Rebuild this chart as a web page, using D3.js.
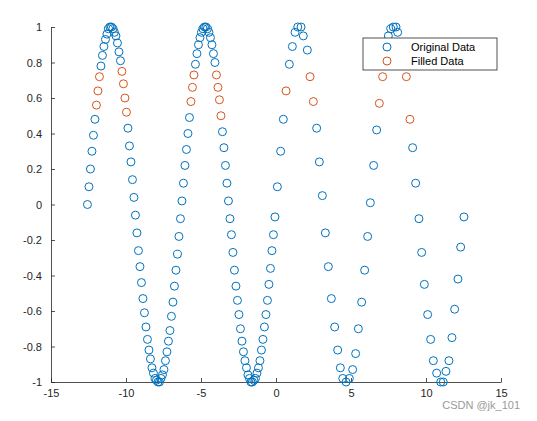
<!DOCTYPE html>
<html>
<head>
<meta charset="utf-8">
<script src="https://d3js.org/d3.v7.min.js"></script>
<style>
  body { margin: 0; background: #fff; font-family: Arial, "Liberation Sans", sans-serif; }
</style>
</head>
<body>
<div id="chart"></div>
<script>
// dense section, step 0.1 from -4*pi
var denseX = [-12.57,-12.47,-12.37,-12.27,-12.17,-12.07,-11.97,-11.87,-11.77,-11.67,-11.57,-11.47,-11.37,-11.27,-11.17,-11.07,-10.97,-10.87,-10.77,-10.67,-10.57,-10.47,-10.37,-10.27,-10.17,-10.07,-9.97,-9.87,-9.77,-9.67,-9.57,-9.47,-9.37,-9.27,-9.17,-9.07,-8.97,-8.87,-8.77,-8.67,-8.57,-8.47,-8.37,-8.27,-8.17,-8.07,-7.97,-7.87,-7.77,-7.67,-7.57,-7.47,-7.37,-7.27,-7.17,-7.07,-6.97,-6.87,-6.77,-6.67,-6.57,-6.47,-6.37,
  -6.27,-6.17,-6.07,-5.97,-5.87,-5.77,-5.67,-5.57,-5.47,-5.37,-5.27,-5.17,-5.07,-4.97,-4.87,-4.77,-4.67,-4.57,-4.47,-4.37,-4.27,-4.17,-4.07,-3.97,-3.87,-3.77,-3.67,-3.57,-3.47,-3.37,-3.27,-3.17,-3.07,-2.97,-2.87,-2.77,-2.67,-2.57,-2.47,-2.37,-2.27,-2.17,-2.07,-1.97,-1.87,-1.77,-1.67,-1.57,-1.47,-1.37,-1.27,-1.17,-1.07,-0.97,-0.87,-0.77,-0.67,-0.57,-0.47,-0.37,-0.27,-0.17,-0.07];
var denseY = [0,0.10,0.20,0.30,0.39,0.48,0.56,0.64,0.72,0.78,0.84,0.89,0.93,0.96,0.99,1.0,1.0,0.99,0.97,0.95,0.91,0.86,0.81,0.75,0.68,0.60,0.52,0.43,0.33,0.24,0.14,0.04,-0.06,-0.16,-0.26,-0.35,-0.44,-0.53,-0.61,-0.69,-0.76,-0.82,-0.87,-0.92,-0.95,-0.98,-0.99,-1.0,-1.0,-0.98,-0.96,-0.93,-0.88,-0.83,-0.77,-0.71,-0.63,-0.55,-0.46,-0.37,-0.28,-0.18,-0.08,
  0.02,0.12,0.22,0.31,0.40,0.49,0.58,0.66,0.73,0.79,0.85,0.90,0.94,0.97,0.99,1.0,1.0,0.99,0.97,0.94,0.90,0.85,0.80,0.73,0.66,0.59,0.50,0.41,0.32,0.22,0.12,0.02,-0.08,-0.17,-0.27,-0.37,-0.46,-0.54,-0.62,-0.70,-0.77,-0.83,-0.88,-0.92,-0.96,-0.98,-1.0,-1.0,-0.99,-0.98,-0.95,-0.92,-0.88,-0.82,-0.76,-0.69,-0.62,-0.54,-0.45,-0.36,-0.26,-0.17,-0.07];
var denseFilled = [6,7,8,23,24,25,26,69,70,71,86,87,88,89];

// sparse section, irregular
var sparseX = [0.09,0.31,0.49,0.67,0.89,1.09,1.27,1.45,1.67,1.82,2.09,2.27,2.49,2.71,2.89,3.09,3.29,3.49,3.69,3.91,4.11,4.29,4.45,4.67,4.89,5.11,5.31,5.49,5.71,5.91,6.11,6.29,6.51,6.71,6.89,7.11,7.29,7.49,7.65,7.82,8.0,8.11,8.69,8.93,9.11,9.31,9.53,9.71,9.89,10.11,10.31,10.49,10.71,10.98,11.15,11.33,11.53,11.73,11.91,12.13,12.31,12.53];
var sparseY = [0.10,0.30,0.48,0.64,0.79,0.89,0.97,1.0,1.0,0.95,0.87,0.72,0.58,0.43,0.24,0.05,-0.16,-0.35,-0.53,-0.69,-0.82,-0.92,-0.98,-1.0,-0.98,-0.93,-0.84,-0.70,-0.55,-0.37,-0.18,0.01,0.22,0.42,0.57,0.72,0.85,0.95,0.99,1.0,1.0,0.97,0.72,0.48,0.32,0.12,-0.08,-0.27,-0.45,-0.62,-0.76,-0.88,-0.95,-1.0,-1.0,-0.94,-0.88,-0.75,-0.59,-0.42,-0.24,-0.07];
var sparseFilled = [3,11,12,34,35,42,43];

var xTicks = [-15,-10,-5,0,5,10,15];
var yTicks = [-1,-0.8,-0.6,-0.4,-0.2,0,0.2,0.4,0.6,0.8,1];
var seriesNames = ["Original Data", "Filled Data"];
var colors = ["#0072BD", "#D95319"];

var W = 537, H = 421;
var margin = {left: 51, right: 36, top: 27, bottom: 39};

var original = [], filled = [];
denseX.forEach(function (x, i) {
  (denseFilled.indexOf(i) >= 0 ? filled : original).push([x, denseY[i]]);
});
sparseX.forEach(function (x, i) {
  (sparseFilled.indexOf(i) >= 0 ? filled : original).push([x, sparseY[i]]);
});

var svg = d3.select("#chart").append("svg").attr("width", W).attr("height", H);

var x = d3.scaleLinear().domain([-15, 15]).range([margin.left, W - margin.right]);
var y = d3.scaleLinear().domain([-1, 1]).range([H - margin.bottom, margin.top]);

var fmt = function (d) { return String(d); }; // plain hyphen minus like the original

var xAxis = svg.append("g")
  .attr("transform", "translate(0," + (H - margin.bottom) + ")")
  .call(d3.axisBottom(x).tickValues(xTicks).tickFormat(fmt).tickSizeInner(-4).tickSizeOuter(0).tickPadding(7));
var yAxis = svg.append("g")
  .attr("transform", "translate(" + margin.left + ",0)")
  .call(d3.axisLeft(y).tickValues(yTicks).tickFormat(fmt).tickSizeInner(-4).tickSizeOuter(0).tickPadding(9));

[xAxis, yAxis].forEach(function (a) {
  a.selectAll("path, line").attr("stroke", "#262626").attr("stroke-width", 0.8);
  a.selectAll("text").attr("fill", "#262626").style("font-size", "11px")
    .style("font-family", "Arial, 'Liberation Sans', sans-serif");
});

[original, filled].forEach(function (pts, k) {
  svg.append("g").selectAll("circle").data(pts).join("circle")
    .attr("cx", function (d) { return x(d[0]); })
    .attr("cy", function (d) { return y(d[1]); })
    .attr("r", 4)
    .attr("fill", "none")
    .attr("stroke", colors[k])
    .attr("stroke-width", 1);
});

// legend
var lg = svg.append("g").attr("transform", "translate(363,38)");
lg.append("rect").attr("width", 134).attr("height", 32)
  .attr("fill", "#fff").attr("stroke", "#262626").attr("stroke-width", 0.8);
seriesNames.forEach(function (name, i) {
  lg.append("circle").attr("cx", 24).attr("cy", 9 + i * 14).attr("r", 4)
    .attr("fill", "none").attr("stroke", colors[i]).attr("stroke-width", 1);
  lg.append("text").attr("x", 48).attr("y", 13 + i * 14).text(name)
    .attr("fill", "#000").style("font-size", "11px");
});

svg.append("text").attr("x", 520).attr("y", 409).attr("text-anchor", "end")
  .attr("fill", "#9a9a9a").style("font-size", "11px").text("CSDN @jk_101");
</script>
</body>
</html>
